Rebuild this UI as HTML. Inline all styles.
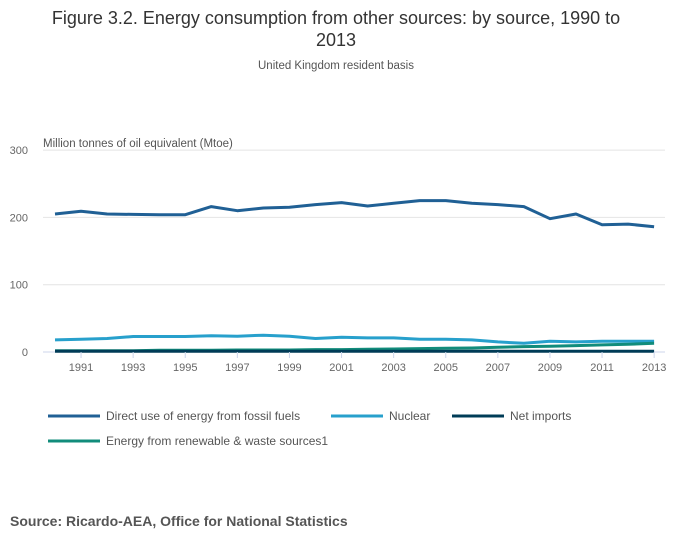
<!DOCTYPE html>
<html><head><meta charset="utf-8"><style>
body{margin:0;background:#fff;width:700px;height:549px;overflow:hidden;font-family:"Liberation Sans",sans-serif}
</style></head><body>
<svg width="700" height="549" xmlns="http://www.w3.org/2000/svg">
<text x="336" y="24" text-anchor="middle" font-size="18" fill="#333">Figure 3.2. Energy consumption from other sources: by source, 1990 to</text>
<text x="336" y="46" text-anchor="middle" font-size="18" fill="#333">2013</text>
<text x="336" y="69" text-anchor="middle" font-size="11.5" fill="#555">United Kingdom resident basis</text>
<text x="43" y="147" font-size="11.5" fill="#555">Million tonnes of oil equivalent (Mtoe)</text>
<g id="grid"></g><g id="series"></g><g id="xticks"></g>
<g id="legend"></g>
<text x="10" y="526" font-size="14" font-weight="bold" fill="#555">Source: Ricardo-AEA, Office for National Statistics</text>
</svg>
<script>
const years=[1990,1991,1992,1993,1994,1995,1996,1997,1998,1999,2000,2001,2002,2003,2004,2005,2006,2007,2008,2009,2010,2011,2012,2013];
const fossil=[205,209,205,204.5,204,204,216,210,214,215,219,222,217,221,225,225,221,219,216,198,205,189,190,186];
const nuclear=[18,19,20,23,23,23,24,23.5,25,23.5,20,22,21,21,19,19,18,15,13,16,15,16,16,16];
const imports=[1,1,1,1,1,1,1,1,1,1,1,1,1,1,1,1,1,1,1,1,1,1,1,1];
const renew=[2,2,2,2,2.5,2.5,2.5,3,3,3,3.5,3.5,4,4.5,5,5.5,6,7,8,8.5,9.5,10.5,11.5,13];
const yTicks=[0,100,200,300];
const xLabels=[1991,1993,1995,1997,1999,2001,2003,2005,2007,2009,2011,2013];
const NS="http://www.w3.org/2000/svg";
const x=v=>55+(v-1990)*26.05;
const y=v=>352-v*0.673;
function mk(t,a,p){const e=document.createElementNS(NS,t);for(const k in a)e.setAttribute(k,a[k]);p.appendChild(e);return e;}
const g=document.getElementById('grid');
yTicks.forEach(t=>{
  const l=mk('line',{x1:43,x2:665,y1:y(t),y2:y(t),stroke:t?'#e4e4e4':'#ccd6eb','stroke-width':1},g);
  
  
  const tx=mk('text',{x:28,y:y(t)+4,'text-anchor':'end','font-size':11,fill:'#666'},g);tx.textContent=t;
  
  
});
const xt=document.getElementById('xticks');
xLabels.forEach(v=>{
  const l=mk('line',{x1:x(v),x2:x(v),y1:352,y2:358,stroke:'#ccd6eb'},xt);
  
  
  const t=mk('text',{x:x(v),y:371,'text-anchor':'middle','font-size':11,fill:'#666'},xt);t.textContent=v;
  
  
});
const S=[['fossil',fossil,'#206095','Direct use of energy from fossil fuels'],['nuclear',nuclear,'#27a0cc','Nuclear'],['renewables',renew,'#118c7b','Energy from renewable & waste sources1'],['net-imports',imports,'#003c57','Net imports']];
const sg=document.getElementById('series');
S.forEach(s=>{
  const p=mk('path',{d:s[1].map((v,i)=>(i?'L':'M')+x(years[i]).toFixed(1)+','+y(v).toFixed(1)).join(''),fill:'none',stroke:s[2],'stroke-width':3,'stroke-linejoin':'round'},sg);
  
  
});
const lg=document.getElementById('legend');
const L=[[48,416,0],[331,416,1],[452,416,3],[48,441,2]];
L.forEach(a=>{const s=S[a[2]];
  const l=mk('line',{x1:a[0],x2:a[0]+52,y1:a[1],y2:a[1],stroke:s[2],'stroke-width':3},lg);
  
  
  const t=mk('text',{x:a[0]+58,y:a[1]+4,'font-size':12,fill:'#555'},lg);t.textContent=s[3];
  
  
});
</script>
</body></html>
